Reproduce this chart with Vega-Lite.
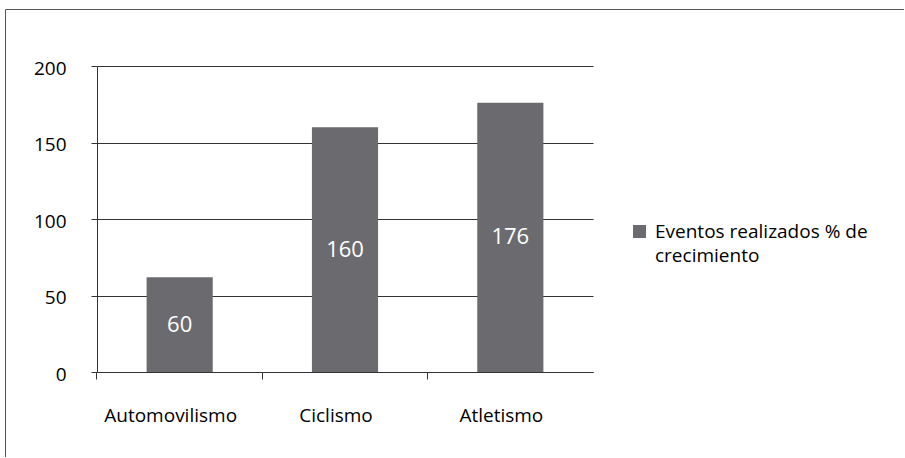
{
  "$schema": "https://vega.github.io/schema/vega-lite/v6.json",
  "width": 899,
  "height": 448,
  "autosize": {"type": "none"},
  "padding": {"left": 5, "top": 9, "right": 0, "bottom": 0},
  "background": "white",
  "config": {
    "view": {"stroke": "#555555", "strokeWidth": 1, "strokeDash": [899, 1347, 448, 0]},
    "font": "Open Sans",
    "style": {"guide-label": {"lineHeight": 24}}
  },
  "data": {
    "values": [
      {"deporte": "Automovilismo", "valor": 62, "etiqueta": "60", "serie": "Eventos realizados % de crecimiento"},
      {"deporte": "Ciclismo", "valor": 160, "etiqueta": "160", "serie": "Eventos realizados % de crecimiento"},
      {"deporte": "Atletismo", "valor": 176, "etiqueta": "176", "serie": "Eventos realizados % de crecimiento"}
    ]
  },
  "layer": [
    {
      "mark": {"type": "bar"},
      "encoding": {
        "x": {
          "field": "deporte", "type": "nominal", "sort": null,
          "scale": {"range": [92, 588], "paddingInner": 0.6, "paddingOuter": 0.3},
          "axis": {
            "title": null, "orient": "bottom", "offset": -85, "labelAngle": 0,
            "domainColor": "#333333", "tickColor": "#333333", "tickSize": 7,
            "bandPosition": -0.75, "labelFontSize": 19, "labelColor": "#000000",
            "labelPadding": 27, "labelOffset": -9, "grid": false
          }
        },
        "y": {
          "field": "valor", "type": "quantitative",
          "scale": {"domain": [0, 200], "range": [363, 57], "nice": false},
          "axis": {
            "title": null, "values": [0, 50, 100, 150, 200], "offset": -92,
            "grid": true, "gridColor": "#333333", "gridOpacity": 1,
            "domainColor": "#333333", "tickColor": "#333333", "tickSize": 6,
            "labelFontSize": 19, "labelPadding": 25, "labelColor": "#000000",
            "labelOffset": 2
          }
        },
        "color": {
          "field": "serie", "type": "nominal",
          "scale": {"range": ["#6b6b6f"]},
          "legend": {
            "title": null, "orient": "none", "legendX": 625, "legendY": 213,
            "symbolType": "square", "symbolSize": 169, "symbolStrokeWidth": 0,
            "labelFontSize": 19, "labelColor": "#000000", "labelLimit": 400,
            "labelOffset": 6,
            "labelExpr": "['Eventos realizados % de', 'crecimiento']"
          }
        }
      }
    },
    {
      "mark": {"type": "text", "color": "#ffffff", "fontSize": 22, "baseline": "middle"},
      "encoding": {
        "x": {"field": "deporte", "type": "nominal", "sort": null},
        "y": {
          "field": "valor", "type": "quantitative",
          "scale": {"domain": [0, 400], "range": [363, 57], "nice": false},
          "axis": null
        },
        "text": {"field": "etiqueta"}
      }
    }
  ],
  "resolve": {"scale": {"y": "independent"}}
}
